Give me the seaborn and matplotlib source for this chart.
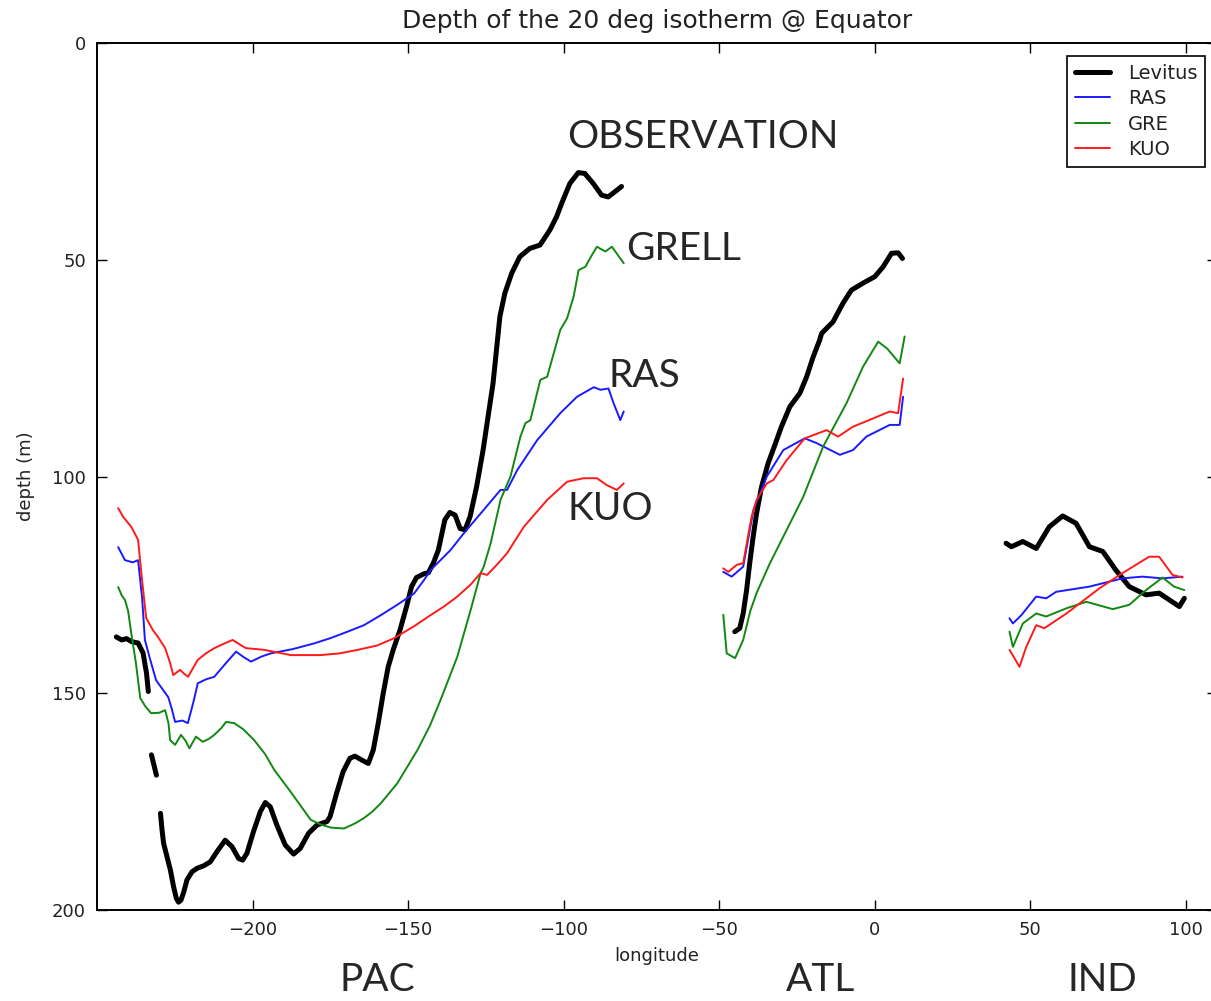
import numpy as np
import pandas as pd
import matplotlib
matplotlib.use("Agg")
import matplotlib.pyplot as plt
from matplotlib.lines import Line2D
import seaborn as sns

nan = np.nan

# ---------------- data (longitude, depth of 20 deg isotherm) ----------------
# Levitus observations (NaN separates gaps)
lev_pac_lon = [-243.8, -242.1, -240.5, -238.9, -236.8, -235.2, -234.1, -233.5, nan,
               -232.5, -230.9, nan,
               -229.6, -229.1, -228.6, -227.5, -226.4, -225.4, -224.5, -223.8, -223.0,
               -222.1, -221.1, -219.5, -217.9, -215.7, -213.6, -211.4, -208.8, -206.6,
               -204.5, -203.2, -201.8, -199.7, -197.5, -195.9, -194.3, -192.2, -189.5,
               -186.8, -184.7, -182.0, -179.3, -176.1, -175.1, -173.0, -170.9, -168.7,
               -167.1, -164.9, -162.8, -161.2, -159.6, -158.0, -156.4, -154.8, -152.6,
               -150.5, -148.9, -147.3, -145.1, -143.5, -141.9, -140.3, -139.8, -138.2,
               -136.6, -134.9, -133.3, -131.7, -130.1, -128.0, -125.9, -124.3, -122.7,
               -121.6, -120.5, -118.9, -116.7, -114.1, -110.9, -107.6, -104.4, -102.3,
               -100.2, -98.0, -95.3, -93.2, -90.5, -87.8, -85.7, -83.5, -81.4]
lev_pac_dep = [137.0, 137.7, 137.4, 138.1, 138.4, 140.7, 145.3, 149.6, nan,
               164.2, 168.9, nan,
               177.7, 181.5, 184.6, 187.7, 190.8, 194.6, 197.3, 198.2, 197.7,
               195.8, 193.1, 191.2, 190.4, 189.8, 188.9, 186.5, 183.9, 185.4,
               188.1, 188.5, 186.9, 181.9, 177.3, 175.2, 176.2, 180.4, 185.0,
               187.1, 185.8, 182.3, 180.4, 179.6, 178.5, 173.1, 168.1, 165.0,
               164.5, 165.4, 166.2, 163.1, 156.9, 150.0, 143.9, 140.0, 135.4,
               130.0, 125.4, 123.3, 122.5, 122.2, 120.0, 117.0, 115.4, 110.0,
               108.3, 108.9, 112.0, 112.3, 109.3, 102.4, 93.9, 86.2, 78.5,
               70.8, 63.1, 57.7, 53.1, 49.3, 47.4, 46.6, 43.1, 40.1,
               36.2, 32.4, 29.9, 30.1, 32.4, 35.1, 35.5, 34.3, 33.1]
lev_atl_lon = [-45.0, -43.4, -42.3, -41.2, -40.2, -39.1, -38.0, -36.4, -34.3, -32.1,
               -30.0, -27.3, -24.1, -21.9, -19.8, -17.7, -17.1, -13.4, -10.2, -7.5,
               -3.8, 0.0, 2.7, 5.4, 7.5, 8.9]
lev_atl_dep = [135.8, 135.0, 131.6, 126.2, 120.0, 113.9, 108.5, 102.4, 97.0, 92.7,
               88.5, 83.9, 80.8, 77.0, 72.4, 68.5, 67.0, 64.3, 60.0, 57.0,
               55.4, 53.9, 51.6, 48.5, 48.4, 49.7]
lev_ind_lon = [42.2, 43.9, 47.6, 51.9, 56.1, 60.4, 64.7, 69.0, 73.3, 77.5, 81.8, 87.2,
               91.4, 97.9, 99.5]
lev_ind_dep = [115.4, 116.2, 115.0, 116.6, 111.6, 109.1, 110.8, 116.2, 117.3, 121.6,
               125.4, 127.3, 126.9, 130.0, 128.1]

# RAS
ras_pac_lon = [-243.2, -241.0, -238.5, -236.8, -235.5, -234.6, -233.0, -231.0, -229.0,
               -227.1, -226.0, -224.9, -222.5, -220.8, -219.0, -217.6, -215.0, -212.3,
               -208.5, -205.3, -203.0, -200.5, -197.0, -194.1, -187.0, -180.2, -175.0,
               -169.5, -164.2, -158.8, -153.5, -148.1, -144.9, -142.8, -136.4, -132.1,
               -125.7, -120.3, -118.2, -114.9, -108.5, -101.1, -95.7, -90.3, -88.2,
               -85.6, -84.0, -81.8, -80.7]
ras_pac_dep = [116.3, 119.3, 119.8, 119.3, 128.0, 137.7, 142.0, 147.0, 149.0,
               150.9, 153.5, 156.6, 156.3, 156.9, 152.0, 147.7, 146.8, 146.2,
               143.0, 140.4, 141.6, 142.7, 141.5, 140.8, 139.8, 138.5, 137.3,
               135.8, 134.3, 132.0, 129.6, 127.0, 123.9, 121.6, 117.0, 113.1,
               107.7, 103.1, 103.1, 98.5, 91.6, 85.4, 81.6, 79.4, 80.0,
               79.7, 83.0, 87.0, 85.0]
ras_atl_lon = [-48.7, -46.0, -42.3, -39.0, -34.7, -29.4, -22.5, -18.7, -11.2, -7.0,
               -2.7, 4.8, 8.0, 9.1]
ras_atl_dep = [122.0, 123.1, 120.8, 107.7, 100.0, 93.9, 91.2, 92.3, 95.0, 93.9,
               90.8, 88.1, 88.1, 81.6]
ras_ind_lon = [43.3, 44.4, 47.1, 51.9, 55.1, 58.3, 69.0, 79.6, 86.0, 92.5, 98.9]
ras_ind_dep = [132.7, 133.9, 132.0, 127.7, 128.1, 126.6, 125.4, 123.5, 123.1, 123.5, 123.1]

# GRELL
gre_pac_lon = [-243.2, -242.0, -241.0, -240.0, -239.0, -237.5, -236.1, -234.5, -232.6,
               -230.0, -228.1, -227.0, -226.5, -224.9, -223.0, -221.5, -220.3, -218.2,
               -216.0, -214.0, -212.3, -210.0, -208.5, -205.9, -203.0, -199.5, -196.0,
               -193.0, -188.0, -184.5, -181.3, -178.0, -174.8, -170.6, -167.0, -164.2,
               -161.5, -158.8, -153.5, -147.0, -143.0, -139.6, -134.2, -129.9, -126.7,
               -125.7, -123.5, -120.3, -117.1, -113.9, -112.3, -110.7, -107.5, -105.3,
               -101.1, -98.9, -96.8, -95.2, -93.0, -91.0, -89.3, -86.6, -84.5, -80.7]
gre_pac_dep = [125.5, 127.5, 128.5, 131.0, 136.1, 143.0, 151.1, 153.0, 154.6,
               154.5, 153.9, 157.0, 160.8, 161.9, 159.6, 161.0, 162.7, 160.0,
               161.2, 160.5, 159.6, 158.0, 156.6, 156.9, 158.3, 160.8, 164.0,
               167.7, 172.5, 176.0, 179.2, 180.3, 181.0, 181.2, 180.0, 178.8,
               177.3, 175.4, 170.8, 163.1, 157.5, 151.6, 141.6, 130.8, 122.3,
               120.8, 115.5, 105.4, 100.0, 90.8, 87.7, 87.0, 77.7, 77.0,
               66.2, 63.5, 58.5, 52.4, 51.6, 49.0, 47.0, 48.1, 47.0, 50.8]
gre_atl_lon = [-48.7, -47.6, -44.9, -42.3, -40.0, -38.0, -33.7, -28.3, -23.0, -16.6,
               -9.1, -3.8, 1.1, 4.0, 8.0, 9.6]
gre_atl_dep = [131.9, 140.8, 141.9, 137.7, 131.0, 126.9, 120.0, 112.3, 104.7, 93.1,
               83.1, 74.7, 68.9, 70.5, 73.9, 67.7]
gre_ind_lon = [43.3, 44.4, 47.6, 51.9, 55.1, 61.6, 68.0, 76.5, 81.8, 87.2, 92.5, 96.2, 99.5]
gre_ind_dep = [135.8, 139.3, 133.9, 131.6, 132.3, 130.4, 128.9, 130.6, 129.6, 126.2,
               123.3, 125.4, 126.2]

# KUO
kuo_pac_lon = [-243.2, -241.6, -239.0, -236.8, -235.5, -234.2, -232.0, -230.4, -228.1,
               -226.5, -225.5, -223.3, -222.0, -220.7, -219.0, -217.6, -215.0, -212.3,
               -209.0, -206.4, -204.0, -202.1, -199.0, -196.2, -187.7, -178.1, -172.0,
               -166.3, -160.0, -154.5, -148.0, -142.8, -138.5, -134.2, -130.0, -126.7,
               -124.6, -121.0, -118.2, -112.8, -105.3, -98.9, -93.6, -89.3, -86.1,
               -82.9, -80.7]
kuo_pac_dep = [107.3, 109.3, 111.6, 114.6, 124.0, 132.6, 135.5, 137.0, 139.6,
               143.0, 145.8, 144.6, 145.5, 146.2, 144.0, 142.3, 140.8, 139.6,
               138.5, 137.7, 138.8, 139.6, 139.8, 140.0, 141.2, 141.2, 140.8,
               140.0, 139.0, 137.3, 134.5, 132.0, 130.0, 127.7, 125.0, 122.3,
               122.7, 120.0, 117.7, 111.6, 105.4, 101.2, 100.4, 100.4, 102.0,
               103.1, 101.6]
kuo_atl_lon = [-48.7, -47.1, -44.4, -42.3, -39.6, -38.0, -34.7, -32.6, -28.3, -22.5,
               -15.5, -11.8, -7.0, -0.5, 4.8, 7.5, 9.1]
kuo_atl_dep = [121.2, 122.0, 120.4, 120.0, 109.3, 105.4, 101.6, 100.8, 96.2, 91.2,
               89.3, 90.8, 88.5, 86.6, 85.0, 85.4, 77.4]
kuo_ind_lon = [43.3, 44.9, 46.5, 48.7, 51.9, 54.5, 61.6, 72.2, 79.6, 88.2, 91.4, 95.7, 98.9]
kuo_ind_dep = [140.0, 141.9, 143.9, 139.3, 134.3, 135.0, 131.6, 125.8, 122.3, 118.5,
               118.5, 122.7, 123.3]

series = {
    "Levitus": [(lev_pac_lon, lev_pac_dep), (lev_atl_lon, lev_atl_dep), (lev_ind_lon, lev_ind_dep)],
    "RAS": [(ras_pac_lon, ras_pac_dep), (ras_atl_lon, ras_atl_dep), (ras_ind_lon, ras_ind_dep)],
    "GRE": [(gre_pac_lon, gre_pac_dep), (gre_atl_lon, gre_atl_dep), (gre_ind_lon, gre_ind_dep)],
    "KUO": [(kuo_pac_lon, kuo_pac_dep), (kuo_atl_lon, kuo_atl_dep), (kuo_ind_lon, kuo_ind_dep)],
}
colors = {"Levitus": "black", "RAS": "#1a1aff", "GRE": "#118811", "KUO": "#ff1a1a"}
widths = {"Levitus": 3.6, "RAS": 1.4, "GRE": 1.4, "KUO": 1.4}

# build long table with segment ids (NaN splits a segment)
rows = []
for name, parts in series.items():
    seg = 0
    for lon, dep in parts:
        seg += 1
        for x, y in zip(lon, dep):
            if np.isnan(x):
                seg += 1
                continue
            rows.append((name, f"{name}-{seg}", x, y))
df = pd.DataFrame(rows, columns=["model", "seg", "lon", "depth"])

# ---------------- figure ----------------
sns.set_style("ticks")
plt.rcParams["font.family"] = ["DejaVu Sans"]

fig = plt.figure(figsize=(12.11, 10.01), dpi=100)
ax = fig.add_axes([97 / 1211, 91 / 1001, 1120 / 1211, 867 / 1001])

for name in series:
    sub = df[df["model"] == name]
    sns.lineplot(data=sub, x="lon", y="depth", units="seg", estimator=None, sort=False,
                 color=colors[name], lw=widths[name], ax=ax, legend=False,
                 solid_joinstyle="round")

ax.set_xlim(-250, 110)
ax.set_ylim(200, 0)
ax.set_xticks([-200, -150, -100, -50, 0, 50, 100])
ax.set_yticks([0, 50, 100, 150, 200])
ax.tick_params(direction="in", length=7, width=1, labelsize=13, top=True, right=True,
               pad=8, colors="black", labelcolor="#222222")
for s in ax.spines.values():
    s.set_linewidth(1.4)
    s.set_color("black")
ax.set_xlabel("longitude", fontsize=13, color="#222222", labelpad=6)
ax.set_ylabel("depth (m)", fontsize=13, color="#222222", labelpad=12)
ax.set_title("Depth of the 20 deg isotherm @ Equator", fontsize=18, color="#222222", pad=11)

handles = [Line2D([0], [0], color=colors[n], lw=widths[n]) for n in series]
leg = ax.legend(handles, list(series.keys()), loc="upper right",
                bbox_to_anchor=(1205 / 1211, (1001 - 56) / 1001),
                bbox_transform=fig.transFigure, borderaxespad=0, fancybox=False,
                framealpha=1, edgecolor="black", fontsize=14, handlelength=1.8,
                labelspacing=0.33, borderpad=0.4, handletextpad=0.9)
leg.get_frame().set_linewidth(1.2)
for t in leg.get_texts():
    t.set_color("#222222")

# annotations
afont = ["Lato", "DejaVu Sans"]
ax.text(-98.8, 21.6, "OBSERVATION", fontsize=28, family=afont, va="center", ha="left")
ax.text(-79.9, 47.5, "GRELL", fontsize=28, family=afont, va="center", ha="left")
ax.text(-85.7, 76.8, "RAS", fontsize=28, family=afont, va="center", ha="left")
ax.text(-98.8, 107.5, "KUO", fontsize=28, family=afont, va="center", ha="left")
fig.text(377 / 1211, 21 / 1001, "PAC", fontsize=28, family=afont, va="center", ha="center")
fig.text(820 / 1211, 21 / 1001, "ATL", fontsize=28, family=afont, va="center", ha="center")
fig.text(1102 / 1211, 21 / 1001, "IND", fontsize=28, family=afont, va="center", ha="center")

fig.savefig("out.png", dpi=100)
